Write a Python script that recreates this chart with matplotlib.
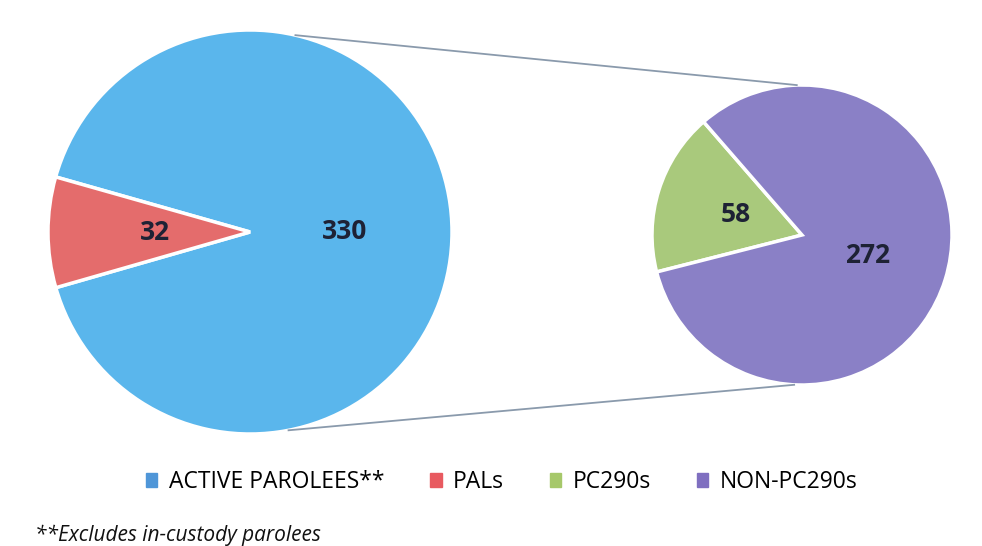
import numpy as np
import matplotlib.pyplot as plt

# values
main_labels = ['ACTIVE PAROLEES**', 'PALs']
main_values = [330, 32]
sub_labels = ['PC290s', 'NON-PC290s']
sub_values = [58, 272]

main_colors = ['#5ab6ec', '#e46c6c']
sub_colors = ['#a9c97c', '#8a80c6']
legend_colors = ['#4f96d8', '#e85a60', '#a6c86a', '#7f6fc0']

W, H = 982, 546
fig = plt.figure(figsize=(W / 100, H / 100), dpi=100)
ax = fig.add_axes([0, 0, 1, 1])

left_c, left_r = (250, 314), 202
right_c, right_r = (802, 311), 150


def fmt(vals):
    tot = sum(vals)
    return lambda p: f'{round(p * tot / 100)}'


txt_kw = dict(fontsize=19, fontweight='bold', color='#1e2235', family='Open Sans')
w1, _, t1 = ax.pie(main_values, colors=main_colors, startangle=196, center=left_c,
                   radius=left_r, autopct=fmt(main_values), pctdistance=0.47,
                   wedgeprops=dict(edgecolor='white', linewidth=2.5), textprops=txt_kw,
                   frame=True)
w2, _, t2 = ax.pie(sub_values, colors=sub_colors, startangle=131, center=right_c,
                   radius=right_r, autopct=fmt(sub_values), pctdistance=0.46,
                   wedgeprops=dict(edgecolor='white', linewidth=2.5), textprops=txt_kw,
                   frame=True)
ax.set_xlim(0, W)
ax.set_ylim(0, H)
ax.set_aspect('equal')
ax.axis('off')

# connector lines between the two pies
for a1, a2 in [(77, 92), (-79, -93)]:
    p1 = (left_c[0] + left_r * np.cos(np.radians(a1)), left_c[1] + left_r * np.sin(np.radians(a1)))
    p2 = (right_c[0] + right_r * np.cos(np.radians(a2)), right_c[1] + right_r * np.sin(np.radians(a2)))
    ax.plot([p1[0], p2[0]], [p1[1], p2[1]], color='#8a9aac', lw=1.3)

handles = [plt.Rectangle((0, 0), 1, 1, color=c) for c in legend_colors]
fig.legend(handles, main_labels + sub_labels, loc='center', bbox_to_anchor=(0.511, 0.117),
           ncol=4, frameon=False, handlelength=0.5, handleheight=0.5, handletextpad=0.5,
           columnspacing=2.0, prop=dict(family='Open Sans', size=16.5))

fig.text(0.036, 0.01, '**Excludes in-custody parolees', fontsize=15, style='italic',
         family='Open Sans', color='#111111')

fig.savefig('out.png', dpi=100)
